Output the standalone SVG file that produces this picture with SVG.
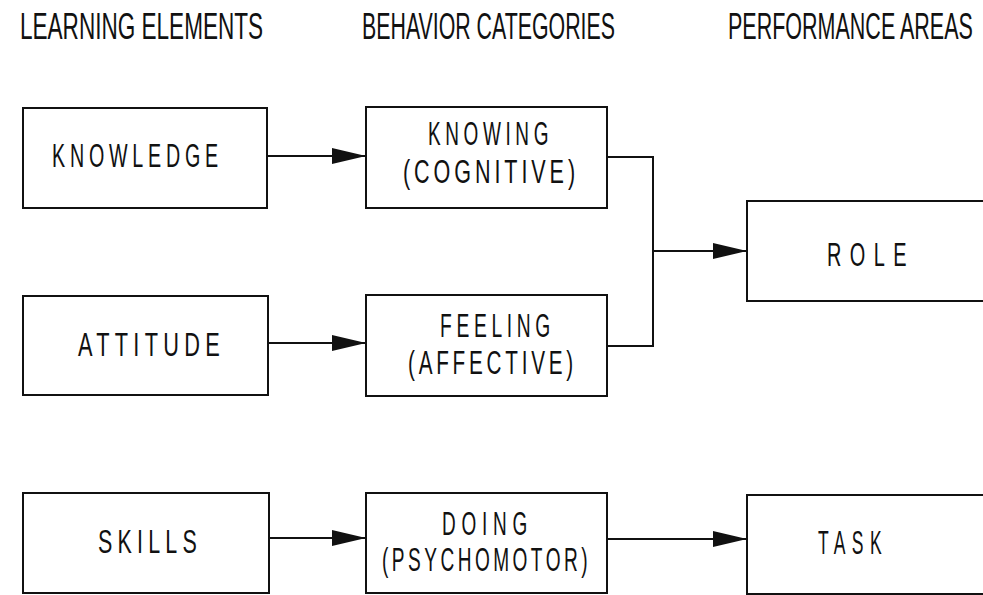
<svg xmlns="http://www.w3.org/2000/svg" width="983" height="595" viewBox="0 0 983 595">
  <defs>
    <style>
      .box { fill: #fff; stroke: #111; stroke-width: 2; }
      .wire { fill: none; stroke: #111; stroke-width: 2; }
      .head { fill: #111; }
      .hdr { font-family: "Liberation Sans", Arial, sans-serif; font-size: 36px; fill: #111; }
      .lbl { font-family: "Liberation Sans", Arial, sans-serif; font-size: 33px; fill: #111; }
    </style>
    <marker id="arrow" viewBox="0 0 34 16" refX="34" refY="8" markerWidth="34" markerHeight="16" markerUnits="userSpaceOnUse" orient="auto">
      <path class="head" d="M0,0 L34,8 L0,16 Z"/>
    </marker>
  </defs>

  <rect width="983" height="595" fill="#fff"/>

  <!-- column headings, condensed horizontally -->
  <g id="headings">
    <text class="hdr" transform="translate(20,39) scale(0.62,1)" textLength="392" lengthAdjust="spacingAndGlyphs">LEARNING ELEMENTS</text>
    <text class="hdr" transform="translate(362,39) scale(0.62,1)" textLength="408" lengthAdjust="spacingAndGlyphs">BEHAVIOR CATEGORIES</text>
    <text class="hdr" transform="translate(728,39) scale(0.62,1)" textLength="395" lengthAdjust="spacingAndGlyphs">PERFORMANCE AREAS</text>
  </g>

  <!-- connectors -->
  <g id="connectors">
    <line class="wire" x1="267" y1="156" x2="366" y2="156" marker-end="url(#arrow)"/>
    <line class="wire" x1="268" y1="343" x2="366" y2="343" marker-end="url(#arrow)"/>
    <line class="wire" x1="269" y1="538" x2="366" y2="538" marker-end="url(#arrow)"/>
    <polyline class="wire" points="607,157 653,157 653,346 607,346"/>
    <line class="wire" x1="653" y1="251" x2="747" y2="251" marker-end="url(#arrow)"/>
    <line class="wire" x1="607" y1="539" x2="747" y2="539" marker-end="url(#arrow)"/>
  </g>

  <!-- learning elements -->
  <g id="knowledge">
    <rect class="box" x="23" y="108" width="244" height="100"/>
    <text class="lbl" x="52" y="167" letter-spacing="8" textLength="171" lengthAdjust="spacingAndGlyphs">KNOWLEDGE</text>
  </g>
  <g id="attitude">
    <rect class="box" x="23" y="296" width="245" height="99"/>
    <text class="lbl" x="78" y="356" letter-spacing="8" textLength="147" lengthAdjust="spacingAndGlyphs">ATTITUDE</text>
  </g>
  <g id="skills">
    <rect class="box" x="23" y="493" width="246" height="100"/>
    <text class="lbl" x="98" y="553" letter-spacing="8" textLength="104" lengthAdjust="spacingAndGlyphs">SKILLS</text>
  </g>

  <!-- behavior categories -->
  <g id="knowing">
    <rect class="box" x="366" y="107" width="241" height="101"/>
    <text class="lbl" x="428" y="145" letter-spacing="8" textLength="125" lengthAdjust="spacingAndGlyphs">KNOWING</text>
    <text class="lbl" x="403" y="183" letter-spacing="6" textLength="176" lengthAdjust="spacingAndGlyphs">(COGNITIVE)</text>
  </g>
  <g id="feeling">
    <rect class="box" x="366" y="295" width="241" height="101"/>
    <text class="lbl" x="440" y="337" letter-spacing="8" textLength="115" lengthAdjust="spacingAndGlyphs">FEELING</text>
    <text class="lbl" x="408" y="374" letter-spacing="6" textLength="169" lengthAdjust="spacingAndGlyphs">(AFFECTIVE)</text>
  </g>
  <g id="doing">
    <rect class="box" x="366" y="493" width="241" height="100"/>
    <text class="lbl" x="442" y="535" letter-spacing="10" textLength="91" lengthAdjust="spacingAndGlyphs">DOING</text>
    <text class="lbl" x="382" y="571" letter-spacing="6" textLength="209" lengthAdjust="spacingAndGlyphs">(PSYCHOMOTOR)</text>
  </g>

  <!-- performance areas -->
  <g id="role">
    <rect class="box" x="747" y="201" width="245" height="100"/>
    <text class="lbl" x="827" y="266" letter-spacing="14" textLength="88" lengthAdjust="spacingAndGlyphs">ROLE</text>
  </g>
  <g id="task">
    <rect class="box" x="747" y="495" width="245" height="99"/>
    <text class="lbl" x="818" y="554" letter-spacing="12" textLength="70" lengthAdjust="spacingAndGlyphs">TASK</text>
  </g>
</svg>
